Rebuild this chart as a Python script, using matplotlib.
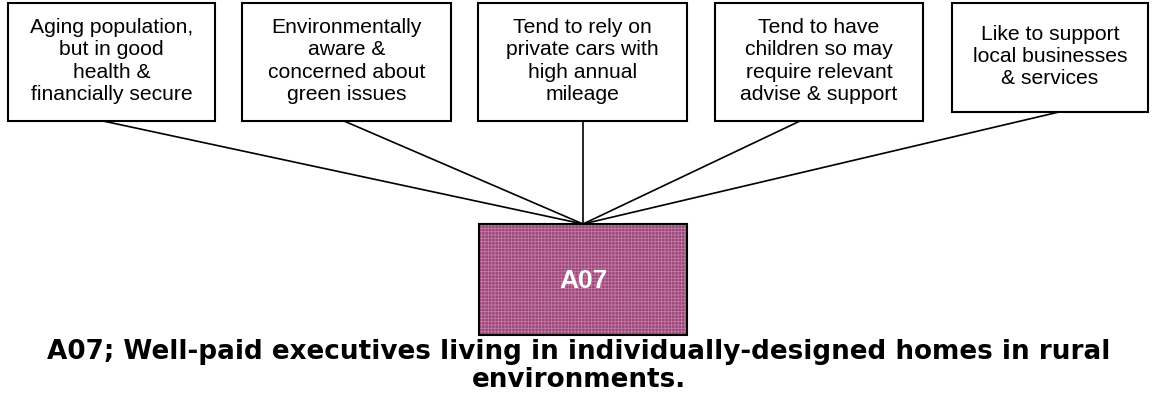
import matplotlib.pyplot as plt
from matplotlib.patches import Rectangle

# Diagram content
traits = [
    "Aging population,\nbut in good\nhealth &\nfinancially secure",
    "Environmentally\naware &\nconcerned about\ngreen issues",
    "Tend to rely on\nprivate cars with\nhigh annual\nmileage",
    "Tend to have\nchildren so may\nrequire relevant\nadvise & support",
    "Like to support\nlocal businesses\n& services",
]
group_code = "A07"
group_desc = "; Well-paid executives living in individually-designed homes in rural\nenvironments."

# Layout (pixel space, y down)
box_left = [8, 242, 478, 715, 952]
box_width = [207, 209, 209, 208, 196]
box_bottom = [121, 121, 121, 121, 112]
box_top = 3
anchor_x = [103, 344, 583, 800, 1059]
hub = (583, 224)
centre = (479, 224, 208, 111)

fig = plt.figure(figsize=(11.56, 4), dpi=100)
ax = fig.add_axes([0, 0, 1, 1])
ax.set_xlim(0, 1156)
ax.set_ylim(400, 0)
ax.axis('off')

plt.rcParams['hatch.linewidth'] = 0.6

for i, txt in enumerate(traits):
    h = box_bottom[i] - box_top
    ax.add_patch(Rectangle((box_left[i], box_top), box_width[i], h,
                           facecolor='white', edgecolor='black', lw=1.5, zorder=3))
    ax.text(box_left[i] + box_width[i] / 2, box_top + h / 2 - 1, txt,
            ha='center', va='center', fontsize=15.2, family='Liberation Sans',
            linespacing=1.23, zorder=4)
    ax.plot([anchor_x[i], hub[0]], [box_bottom[i], hub[1]],
            color='black', lw=1.2, zorder=2)

cx, cy, cw, ch = centre
ax.add_patch(Rectangle((cx, cy), cw, ch, facecolor='#9c4579', edgecolor='none', zorder=3))
ax.add_patch(Rectangle((cx, cy), cw, ch, facecolor='none', edgecolor='#c07ca3',
                       hatch='+++++', lw=0, zorder=3.5))
ax.add_patch(Rectangle((cx, cy), cw, ch, facecolor='none', edgecolor='black',
                       lw=1.5, zorder=4))
ax.text(cx + cw / 2, cy + ch / 2 + 2, group_code, ha='center', va='center',
        color='white', fontsize=19, fontweight='bold',
        family='Liberation Sans', zorder=5)

ax.text(579, 366, group_code + group_desc, ha='center', va='center',
        fontsize=18.9, fontweight='bold', family='DejaVu Sans', linespacing=1.12)

fig.savefig('out.png', dpi=100)
